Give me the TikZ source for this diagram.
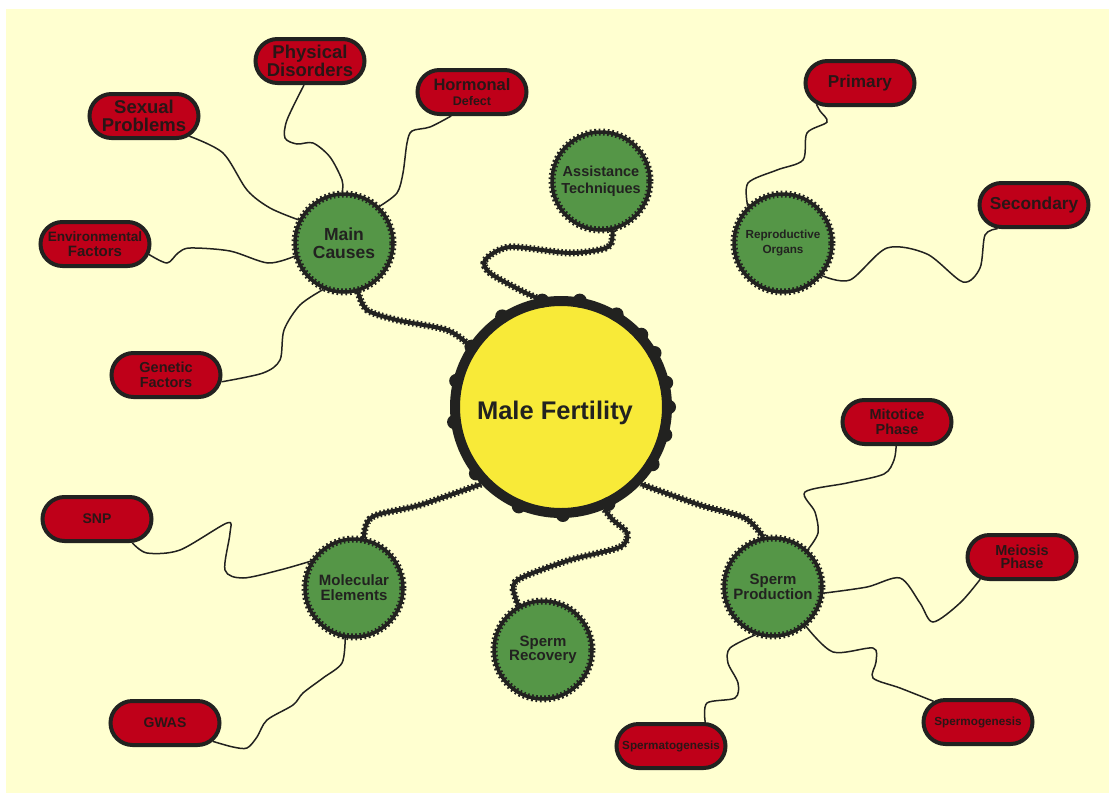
\documentclass[tikz,border=0pt]{standalone}
\usepackage{fontspec}
\setmainfont{Liberation Sans}
\usetikzlibrary{shapes.misc,calc}
\definecolor{bgc}{HTML}{FFFFD0}
\definecolor{dark}{HTML}{222220}
\definecolor{txt}{HTML}{2A1616}
\definecolor{pillred}{HTML}{BF0019}
\definecolor{leaf}{HTML}{559647}
\definecolor{sun}{HTML}{F8EA38}
\pgfdeclarelayer{bg}
\pgfsetlayers{bg,main}
\newcommand{\setfs}[2]{\fontsize{#1}{#2}\selectfont}
\tikzset{
  pill/.style={rounded rectangle, draw=dark, line width=4pt, fill=pillred,
    minimum width=109pt, minimum height=44pt, inner sep=0pt, align=center, text=txt},
  bubble/.style={circle, draw=dark, line width=3.5pt, fill=leaf, minimum size=98pt,
    inner sep=0pt, align=center, text=dark,
    postaction={draw=dark, line width=7pt, dash pattern=on 1.7pt off 2.6pt}},
  thin link/.style={draw=dark, line width=1.5pt},
  thick link/.style={draw=dark, line width=4pt,
    postaction={draw=dark, line width=7pt, dash pattern=on 1.6pt off 2.4pt}},
}
\begin{document}
\begin{tikzpicture}[x=1pt,y=-1pt]
\useasboundingbox (0,0) rectangle (1109,793);
\begin{pgfonlayer}{bg}
\fill[bgc] (6,9) rectangle (1109,793);
\end{pgfonlayer}

% central node
\node[circle, draw=dark, line width=10pt, fill=sun, minimum size=212pt, inner sep=0pt,
  text=dark, font=\bfseries\setfs{25.5}{28}] (mf) at (561,407)
  {\makebox[0pt]{\hspace*{-12pt}\raisebox{-12pt}[0pt][0pt]{Male Fertility}}};
\foreach \a in {80,100,123,146,166,188,218,247,271,296,328,345,0,13,30,42,59}
  \fill[dark] ($(mf.center)+(\a:108pt)$) circle (7);

% green hubs
\node[bubble, font=\bfseries\setfs{17.5}{18}] (mc) at (344,243) {Main\\Causes};
\node[bubble, font=\bfseries\setfs{11.7}{15}] (ro) at (783,243) {Reproductive\\Organs};
\node[bubble, font=\bfseries\setfs{14.5}{17}] (at) at (601,181) {Assistance\\Techniques};
\node[bubble, font=\bfseries\setfs{15}{15}] (me) at (354,588) {Molecular\\Elements};
\node[bubble, font=\bfseries\setfs{15}{12.5}] (sr) at (543,650) {Sperm\\Recovery};
\node[bubble, font=\bfseries\setfs{15}{15}] (spd) at (773,587) {Sperm\\Production};

% red leaves
\node[pill, font=\bfseries\setfs{18.5}{16.5}] (phys) at (310,61) {Physical\\Disorders};
\node[pill, font=\bfseries\setfs{16.5}{15}] (horm) at (472,92) {Hormonal\\{\fontsize{12.5}{15}\selectfont Defect}};
\node[pill, font=\bfseries\setfs{18.5}{17.5}] (sex) at (144,116) {Sexual\\Problems};
\node[pill, font=\bfseries\setfs{15}{15}] (env) at (95,244) {{\fontsize{13.6}{15}\selectfont Environmental}\\Factors};
\node[pill, font=\bfseries\setfs{14.5}{15}] (gen) at (166,375) {Genetic\\Factors};
\node[pill, font=\bfseries\setfs{17.2}{18}] (prim) at (860,83) {Primary};
\node[pill, font=\bfseries\setfs{17.3}{18}] (sec) at (1034,205) {Secondary};
\node[pill, font=\bfseries\setfs{14}{15}] (snp) at (97,519) {SNP};
\node[pill, font=\bfseries\setfs{14}{15}] (gwas) at (165,723) {GWAS};
\node[pill, font=\bfseries\setfs{14.5}{15}] (mit) at (897,422) {Mitotice\\Phase};
\node[pill, font=\bfseries\setfs{14.5}{13.5}] (mei) at (1022,557) {Meiosis\\Phase};
\node[pill, font=\bfseries\setfs{11.7}{13}] (spg) at (978,722) {Spermogenesis};
\node[pill, font=\bfseries\setfs{11.7}{13}] (spt) at (671,746) {Spermatogenesis};

\begin{pgfonlayer}{bg}
% thin links
\draw[thin link] plot[smooth] coordinates {(sex.-24) (223,153) (247,190) (270,208) (mc.153)};
\draw[thin link] plot[smooth] coordinates {(phys.-104) (287,120) (285,138) (297,144) (313,143) (330,157) (342,180) (mc.92)};
\draw[thin link] plot[smooth] coordinates {(horm.-131) (430,127) (412,131) (407,143) (403,173) (397,193) (mc.46)};
\draw[thin link] plot[smooth] coordinates {(env.-11) (167,263) (178,253) (190,248) (230,251) (268,263) (mc.195)};
\draw[thin link] plot[smooth] coordinates {(gen.-7) (263,373) (280,360) (284,330) (300,305) (mc.246)};
\draw[thin link] plot[smooth] coordinates {(ro.134) (748,183) (777,170) (803,160) (807,133) (827,122) (820,111) (prim.-154)};
\draw[thin link] plot[smooth] coordinates {(ro.-40) (850,280) (887,248) (927,254) (963,282) (980,268) (985,235) (sec.-147)};
\draw[thin link] plot[smooth] coordinates {(snp.-34) (147,553) (180,550) (227,523) (230,533) (225,570) (243,578) (280,570) (me.148)};
\draw[thin link] plot[smooth] coordinates {(me.-100) (342,663) (323,678) (303,693) (293,705) (267,720) (257,737) (247,748) (233,747) (gwas.-21)};
\draw[thin link] plot[smooth] coordinates {(spd.47) (818,533) (815,512) (805,492) (847,483) (884,474) (894,460) (mit.-92)};
\draw[thin link] plot[smooth] coordinates {(spd.-7) (867,587) (900,578) (920,603) (933,622) (960,603) (mei.-152)};
\draw[thin link] plot[smooth] coordinates {(spd.-50) (833,652) (873,648) (876,662) (873,678) (900,688) (spg.155)};
\draw[thin link] plot[smooth] coordinates {(spd.-110) (730,648) (728,663) (738,683) (735,698) (707,703) (spt.35)};
% thick links
\draw[thick link] plot[smooth] coordinates {(mc.286) (367,310) (397,320) (447,330) (mf.146)};
\draw[thick link] plot[smooth] coordinates {(at.-77) (608,247) (570,253) (510,247) (485,260) (490,273) (520,290) (mf.102)};
\draw[thick link] plot[smooth] coordinates {(me.79) (372,517) (420,505) (mf.224)};
\draw[thick link] plot[smooth] coordinates {(sr.119) (513,587) (523,577) (570,560) (620,547) (627,533) (613,520) (mf.-67)};
\draw[thick link] plot[smooth] coordinates {(spd.101) (745,518) (700,505) (mf.-44)};
\end{pgfonlayer}
\end{tikzpicture}
\end{document}
